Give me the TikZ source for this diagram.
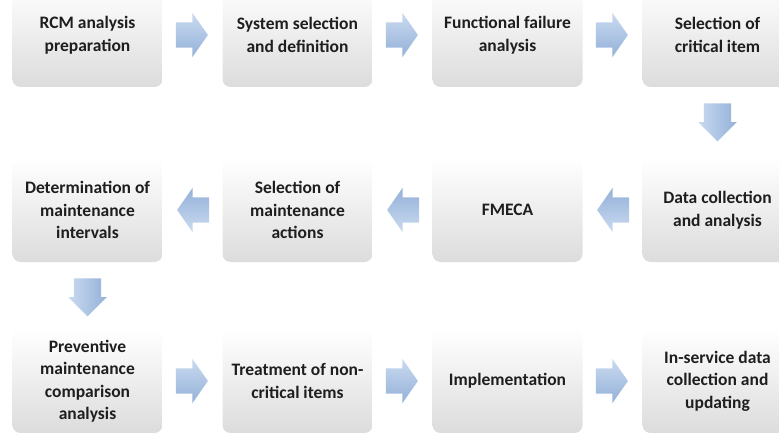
\documentclass[tikz,border=0pt]{standalone}
\usepackage{fontspec}
\setmainfont{Carlito}
\usetikzlibrary{shapes.arrows,calc}
\definecolor{txt}{HTML}{1E1E1E}
\definecolor{boxgray}{HTML}{DCDCDC}
\definecolor{arrtop}{HTML}{CADAF0}
\definecolor{arrbot}{HTML}{93B1D8}
\begin{document}
\begin{tikzpicture}[x=1pt,y=-1pt,
  stepbox/.style={rounded corners=8pt, minimum width=150pt, minimum height=104pt,
    inner sep=0pt, top color=white, middle color=white, bottom color=boxgray,
    align=center, font=\fontsize{17.5}{22.5}\selectfont\bfseries, text=txt},
  flow/.style={single arrow, draw=none, inner xsep=0pt},
  flowright/.style={flow, minimum height=32pt, inner ysep=12.5pt,
    single arrow head extend=9.5pt, single arrow tip angle=110,
    top color=arrtop, bottom color=arrbot, anchor=tail},
  flowleft/.style={flowright, rotate=180, top color=arrbot, bottom color=arrtop},
  flowdown/.style={flow, minimum height=38pt, inner ysep=13.5pt,
    single arrow head extend=5.5pt, single arrow tip angle=90,
    rotate=-90, left color=arrtop, right color=arrbot, anchor=tail}]
\useasboundingbox (0,0) rectangle (779,433);
\clip (0,0) rectangle (779,433);
% row 1
\node[stepbox] (b1) at (87.5,35) {RCM analysis\\preparation};
\node[stepbox] (b2) at (297.5,35) {System selection\\and definition};
\node[stepbox] (b3) at (507.5,35) {Functional failure\\analysis};
\node[stepbox] (b4) at (717.5,35) {Selection of\\critical item};
% row 2
\node[stepbox] (b5) at (717.5,210) {Data collection\\and analysis};
\node[stepbox] (b6) at (507.5,210) {FMECA};
\node[stepbox] (b7) at (297.5,210) {Selection of\\maintenance\\actions};
\node[stepbox] (b8) at (87.5,210) {Determination of\\maintenance\\intervals};
% row 3
\node[stepbox] (b9) at (87.5,381) {Preventive\\maintenance\\comparison\\analysis};
\node[stepbox] (b10) at (297.5,381) {Treatment of non-\\critical items};
\node[stepbox] (b11) at (507.5,381) {Implementation};
\node[stepbox] (b12) at (717.5,381) {In-service data\\collection and\\updating};
% arrows
\node[flowright] (a1) at ($(b1.east)+(13,0)$) {};
\node[flowright] (a2) at ($(b2.east)+(13,0)$) {};
\node[flowright] (a3) at ($(b3.east)+(13,0)$) {};
\node[flowdown] (a4) at ($(b4.south)+(0,16)$) {};
\node[flowleft] (a5) at ($(b5.west)+(-13,0)$) {};
\node[flowleft] (a6) at ($(b6.west)+(-13,0)$) {};
\node[flowleft] (a7) at ($(b7.west)+(-13,0)$) {};
\node[flowdown] (a8) at ($(b8.south)+(0,16)$) {};
\node[flowright] (a9) at ($(b9.east)+(13,0)$) {};
\node[flowright] (a10) at ($(b10.east)+(13,0)$) {};
\node[flowright] (a11) at ($(b11.east)+(13,0)$) {};
\end{tikzpicture}
\end{document}
